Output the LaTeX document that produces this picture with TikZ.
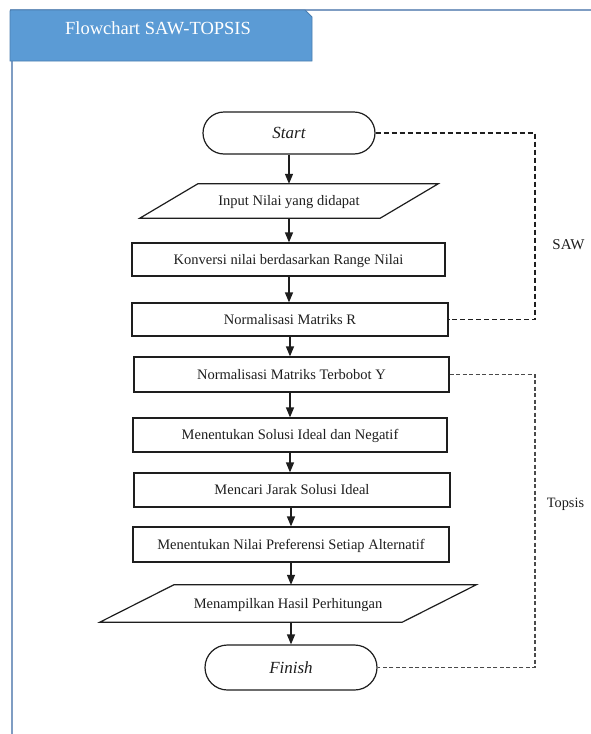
\documentclass[tikz,border=0pt]{standalone}
\usepackage{fontspec}
\setmainfont{Liberation Serif}
\usetikzlibrary{arrows.meta,shapes.misc,calc}
\definecolor{tabfill}{HTML}{5B9BD5}
\definecolor{tabedge}{HTML}{4A7EB0}
\definecolor{frameline}{HTML}{7F9DC3}
\definecolor{ink}{HTML}{1E1E1E}
\definecolor{dashgray}{HTML}{4A4A4A}
\begin{document}
\begin{tikzpicture}[x=1pt,y=-1pt,
  boxtext/.style={font=\fontsize{14.5}{16}\selectfont, text height=12.5pt, text depth=2.9pt, text=ink, inner sep=0pt},
  procbox/.style={boxtext, draw=ink, line width=1.2pt, rectangle, minimum width=315pt, minimum height=#1},
  procbox/.default=34pt,
  iocore/.style={boxtext, rectangle, minimum width=#1},
  termbox/.style={font=\fontsize{17}{19}\selectfont\itshape, text height=14.65pt, text depth=3.4pt, text=ink, inner sep=0pt,
    draw=ink, line width=1.2pt, rounded rectangle, minimum width=172pt},
  edge/.style={draw=ink, line width=1.2pt, line join=miter},
  arrowline/.style={draw=ink, line width=1.3pt, -{Triangle[width=8pt,length=10pt]}},
  dashline/.style={draw=ink, line width=1.1pt, dash pattern=on 5pt off 3pt},
  dashlinetwo/.style={draw=dashgray, line width=1.1pt, dash pattern=on 4pt off 2.5pt},
  sidelabel/.style={text=ink, inner sep=0pt}
]
\useasboundingbox (0,0) rectangle (591,734);
\fill[white] (0,0) rectangle (591,734);

% frame lines
\draw[frameline, line width=1.2pt] (10,10) -- (591,10);
\draw[frameline, line width=1.5pt] (12,61) -- (12,734);

% header tab
\draw[fill=tabfill, draw=tabedge, line width=0.8pt] (10,61) -- (10,12) [rounded corners=1pt] -- (10,10) [sharp corners] -- (305,10) -- (312,17) -- (312,61) -- cycle;
\node[text=white, font=\fontsize{18.5}{20}\selectfont, text height=15.95pt, text depth=3.7pt, inner sep=0pt] (title) at (158,28) {Flowchart SAW-TOPSIS};

% flowchart nodes
\node[termbox, minimum height=42pt] (start) at (289,133) {Start};
\node[iocore=182pt, minimum height=34pt] (input) at (289,201) {Input Nilai yang didapat};
\draw[edge] ([xshift=-58pt]input.south west) -- (input.south east) -- ([xshift=58pt]input.north east) -- (input.north west) -- cycle;
\node[procbox=33pt, minimum width=313pt] (konv) at (288.5,259.5) {Konversi nilai berdasarkan Range Nilai};
\node[procbox=33pt, minimum width=316pt] (normR) at (290,319.5) {Normalisasi Matriks R};
\node[procbox=35pt] (normY) at (291.5,374.5) {Normalisasi Matriks Terbobot Y};
\node[procbox=34pt, minimum width=314pt] (solusi) at (290,435) {Menentukan Solusi Ideal dan Negatif};
\node[procbox=34pt, minimum width=316pt] (jarak) at (292,490) {Mencari Jarak Solusi Ideal};
\node[procbox=35pt, minimum width=316pt] (pref) at (291,544.5) {Menentukan Nilai Preferensi Setiap Alternatif};
\node[iocore=228pt, minimum height=37pt] (tampil) at (288,603.5) {Menampilkan Hasil Perhitungan};
\draw[edge] ([xshift=-74pt]tampil.south west) -- (tampil.south east) -- ([xshift=74pt]tampil.north east) -- (tampil.north west) -- cycle;
\node[termbox, minimum height=45pt] (finish) at (291,667.5) {Finish};

% arrows
\draw[arrowline] (start.south) -- (start.south |- input.north);
\draw[arrowline] (input.south) -- (input.south |- konv.north);
\draw[arrowline] (konv.south -| input.south) -- (input.south |- normR.north);
\draw[arrowline] (normR.south) -- (normR.south |- normY.north);
\draw[arrowline] (normY.south -| normR.south) -- (normR.south |- solusi.north);
\draw[arrowline] (solusi.south) -- (solusi.south |- jarak.north);
\draw[arrowline] (jarak.south -| finish.south) -- (finish.south |- pref.north);
\draw[arrowline] (pref.south -| finish.south) -- (finish.south |- tampil.north);
\draw[arrowline] (tampil.south -| finish.south) -- (finish.north);

% grouping lines
\coordinate (groupx) at (535,0);
\draw[dashline] (start.east) -- (start.east -| groupx) -- (normR.east -| groupx) -- (normR.east);
\draw[dashlinetwo] (normY.east) -- (normY.east -| groupx) -- (finish.east -| groupx) -- (finish.east);

% labels
\node[sidelabel, font=\fontsize{15}{17}\selectfont, text height=12.93pt, text depth=3pt] (sawlbl) at (568.5,244.5) {SAW};
\node[sidelabel, font=\fontsize{14.3}{16}\selectfont, text height=12.32pt, text depth=2.86pt] (topsislbl) at (565.5,502.5) {Topsis};
\end{tikzpicture}
\end{document}
